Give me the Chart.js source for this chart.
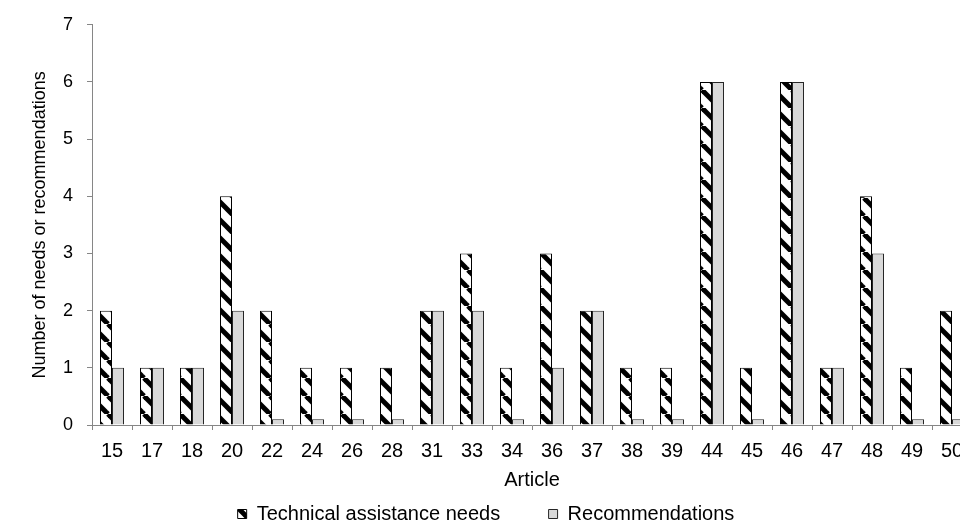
<!DOCTYPE html>
<html>
<head>
<meta charset="utf-8">
<script src="https://cdn.jsdelivr.net/npm/chart.js@4.4.1/dist/chart.umd.min.js"></script>
<style>
  html, body { margin: 0; padding: 0; background: #fff; overflow: hidden; }
  #wrap { width: 1010px; height: 534px; position: relative; }
</style>
</head>
<body>
<div id="wrap"><canvas id="myChart"></canvas></div>
<script>
const articles = ["15", "17", "18", "20", "22", "24", "26", "28", "31", "33", "34",
  "36", "37", "38", "39", "44", "45", "46", "47", "48", "49", "50"];
const needs = [2, 1, 1, 4, 2, 1, 1, 1, 2, 3, 1, 3, 2, 1, 1, 6, 1, 6, 1, 4, 1, 2];
const recommendations = [1, 1, 1, 2, 0.1, 0.1, 0.1, 0.1, 2, 2, 0.1, 1, 2, 0.1, 0.1, 6, 0.1, 6, 1, 3, 0.1, 0.1];
const yTicks = [0, 1, 2, 3, 4, 5, 6, 7];

// hatch pattern: black downward diagonal stripes on white
function makeHatch() {
  const s = 18;
  const c = document.createElement("canvas");
  c.width = s;
  c.height = s;
  const g = c.getContext("2d");
  g.fillStyle = "#fff";
  g.fillRect(0, 0, s, s);
  g.strokeStyle = "#000";
  g.lineWidth = 5;
  for (let x0 = -s; x0 <= s; x0 += s) {
    g.beginPath();
    g.moveTo(x0, 0);
    g.lineTo(x0 + s, s);
    g.stroke();
  }
  return g.createPattern(c, "repeat");
}

const ctx = document.querySelector("#myChart").getContext("2d");
const hatch = makeHatch();
const family = "'Liberation Sans', Arial, sans-serif";
const font = { family: family, size: 18 };
const wideFont = { family: family, size: 20 };
const axisGrey = "#868686";

const data = {
  labels: articles,
  datasets: [
    {
      label: "Technical assistance needs",
      data: needs,
      backgroundColor: hatch,
      borderColor: "#000",
      borderWidth: 1,
      categoryPercentage: 0.6,
      barPercentage: 1,
    },
    {
      label: "Recommendations",
      data: recommendations,
      backgroundColor: "#d9d9d9",
      borderColor: "#262626",
      borderWidth: 1,
      categoryPercentage: 0.6,
      barPercentage: 1,
    },
  ],
};

const config = {
  type: "bar",
  data: data,
  options: {
    responsive: true,
    maintainAspectRatio: false,
    animation: false,
    layout: { padding: { top: 14, left: 0, right: 38, bottom: 0 } },
    scales: {
      x: {
        grid: {
          display: true,
          drawOnChartArea: false,
          drawTicks: true,
          tickLength: 5,
          color: axisGrey,
          offset: true,
        },
        border: { color: axisGrey, width: 1 },
        ticks: { color: "#000", font: wideFont, padding: 9, maxRotation: 0, autoSkip: false },
        title: { display: true, text: "Article", color: "#000", font: wideFont, padding: { top: -4, bottom: 8 } },
      },
      y: {
        min: 0,
        max: 7,
        afterBuildTicks: (scale) => {
          scale.ticks = yTicks.map((v) => ({ value: v }));
        },
        grid: {
          display: true,
          drawOnChartArea: false,
          drawTicks: true,
          tickLength: 5,
          color: axisGrey,
        },
        border: { color: axisGrey, width: 1 },
        ticks: { color: "#000", font: font, padding: 14 },
        title: {
          display: true,
          text: "Number of needs or recommendations",
          color: "#000",
          font: font,
          padding: { top: 29, bottom: 0 },
        },
        afterFit: (scale) => {
          scale.width = 92;
        },
      },
    },
    plugins: {
      legend: {
        position: "bottom",
        labels: {
          color: "#000",
          font: wideFont,
          boxWidth: 9,
          boxHeight: 9,
          padding: 4,
          generateLabels: (chart) => {
            const items = Chart.defaults.plugins.legend.labels.generateLabels(chart);
            // wider gap after the first entry, as in the original legend
            items[0].text = items[0].text + "        ";
            return items;
          },
        },
      },
      tooltip: { enabled: false },
    },
  },
};

const myChart = new Chart(ctx, config);
</script>
</body>
</html>
